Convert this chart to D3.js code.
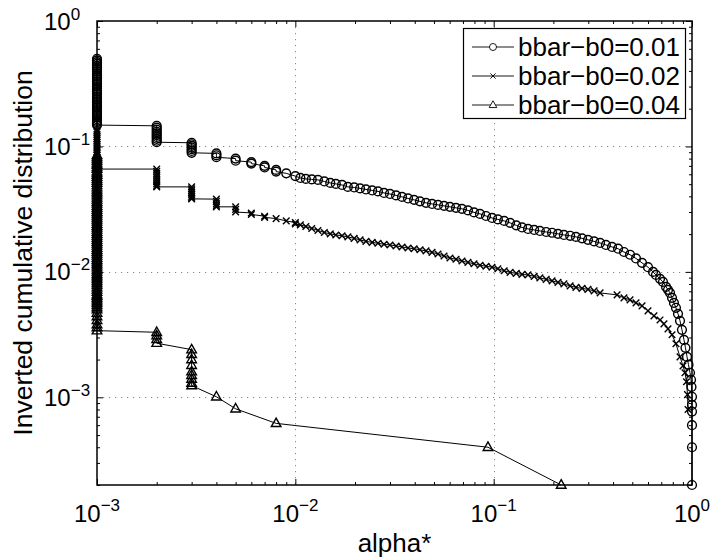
<!DOCTYPE html>
<html>
<head>
<meta charset="utf-8">
<title>Inverted cumulative distribution</title>
<script src="https://d3js.org/d3.v7.min.js"></script>
<style>
  body { margin: 0; background: #fff; }
  text { font-family: "Liberation Sans", Arial, Helvetica, sans-serif; fill: #000; }
</style>
</head>
<body>
<script>
var width = 712, height = 559;
var margin = {left: 97, right: 20, top: 21, bottom: 74};

var seriesNames = ["bbar\u2212b0=0.01", "bbar\u2212b0=0.02", "bbar\u2212b0=0.04"];
var xLabel = "alpha*";
var yLabel = "Inverted cumulative distribution";
var xTicks = [1e-3, 1e-2, 1e-1, 1];
var xTickExp = ["\u22123", "\u22122", "\u22121", "0"];
var yTicks = [1e-3, 1e-2, 1e-1, 1];
var yTickExp = ["\u22123", "\u22122", "\u22121", "0"];

// bbar-b0=0.01 : points stacked at the first alpha* values, then the tail
var s1Steps = [
  [0.001, [0.50,0.485,0.47,0.455,0.44,0.425,0.41,0.395,0.38,0.37,0.36,0.35,0.34,0.33,0.32,0.31,0.30,0.29,0.282,0.274,0.266,0.258,0.25,0.243,0.236,0.229,0.222,0.215,0.209,0.203,0.197,0.191,0.185,0.18,0.175,0.17,0.165,0.16,0.156,0.152,0.148]],
  [0.002, [0.146,0.141,0.136,0.131,0.127,0.123,0.119,0.115,0.111,0.108]],
  [0.003, [0.107,0.104,0.101,0.098,0.095,0.092,0.089]],
  [0.004, [0.088,0.085,0.082]],
  [0.005, [0.080,0.077]],
  [0.006, [0.075,0.073]],
  [0.007, [0.070,0.068]],
  [0.008, [0.065,0.063]],
  [0.009, [0.061]],
  [0.010, [0.058]]
];
var s1Tail = [
  [0.0106,0.0561],[0.0113,0.0551],[0.0121,0.0546],[0.0130,0.0541],[0.0140,0.0526],[0.0150,0.0512],
  [0.0160,0.0503],[0.0172,0.0493],[0.0184,0.0476],[0.0198,0.0471],[0.0212,0.0463],[0.0227,0.0454],
  [0.0244,0.0446],[0.0261,0.0438],[0.0280,0.0426],[0.0300,0.0418],[0.0322,0.0407],[0.0345,0.0396],
  [0.0370,0.0385],[0.0397,0.0375],[0.0425,0.0365],[0.0456,0.0355],[0.0489,0.0348],[0.0524,0.0342],
  [0.0562,0.0336],[0.0602,0.0330],[0.0646,0.0324],[0.0692,0.0318],[0.0742,0.0309],[0.0796,0.0298],
  [0.0853,0.0290],[0.0915,0.0279],[0.0981,0.0269],[0.105,0.0262],[0.113,0.0255],[0.121,0.0246],
  [0.130,0.0235],[0.139,0.0226],[0.149,0.0220],[0.160,0.0216],[0.171,0.0212],[0.184,0.0208],
  [0.197,0.0205],[0.211,0.0201],[0.226,0.0197],[0.243,0.0194],[0.260,0.0190],[0.279,0.0185],
  [0.299,0.0180],[0.321,0.0175],[0.344,0.0170],[0.368,0.0164],[0.395,0.0158],[0.424,0.0153],
  [0.454,0.0144],[0.487,0.0137],[0.522,0.0128],[0.560,0.0118],[0.600,0.0109],[0.636,0.0100],
  [0.658,0.00946],[0.690,0.00880],[0.714,0.00832],[0.740,0.00759],[0.757,0.00719],[0.775,0.00680],
  [0.793,0.00621],[0.811,0.00566],[0.830,0.00517],[0.850,0.00463],[0.870,0.00407],[0.890,0.00345],
  [0.911,0.00287],[0.927,0.00248],[0.944,0.00210],[0.960,0.00182],[0.977,0.00157],[0.989,0.00138],
  [0.994,0.00121],[1.0,0.00101],[1.0,0.00087],[1.0,0.00077],[1.0,0.0006],[1.0,0.0004],[1.0,0.0002]
];

// bbar-b0=0.02
var s2Steps = [
  [0.001, [0.135,0.13,0.125,0.12,0.116,0.112,0.108,0.104,0.100,0.097,0.094,0.091,0.088,0.085,0.082,0.079,0.076,0.073,0.071,0.068,0.066]],
  [0.002, [0.066,0.0635,0.061,0.0587,0.0565,0.0543,0.0522,0.0502,0.0485,0.0476]],
  [0.003, [0.0476,0.046,0.0445,0.043,0.0415,0.040,0.0388,0.0382]],
  [0.004, [0.038,0.0365,0.035,0.0338,0.033]],
  [0.005, [0.033,0.0315,0.030]],
  [0.006, [0.0295,0.0287]],
  [0.007, [0.0278,0.0272]],
  [0.008, [0.0266]],
  [0.009, [0.0255]],
  [0.010, [0.0247,0.0241]]
];
var s2Tail = [
  [0.0106,0.0237],[0.0113,0.0230],[0.0121,0.0222],[0.0130,0.0214],[0.0140,0.0206],[0.0150,0.0201],
  [0.0160,0.0197],[0.0172,0.0194],[0.0184,0.0190],[0.0198,0.0185],[0.0212,0.0180],[0.0227,0.0175],
  [0.0244,0.0172],[0.0261,0.0169],[0.0280,0.0166],[0.0300,0.0164],[0.0322,0.0161],[0.0345,0.0158],
  [0.0370,0.0155],[0.0397,0.0153],[0.0425,0.0150],[0.0456,0.0147],[0.0489,0.0143],[0.0524,0.0139],
  [0.0562,0.0134],[0.0602,0.0129],[0.0646,0.0126],[0.0692,0.0122],[0.0742,0.0119],[0.0796,0.0116],
  [0.0853,0.0113],[0.0915,0.0111],[0.0981,0.0109],[0.105,0.0106],[0.113,0.0102],[0.121,0.00991],
  [0.130,0.00973],[0.139,0.00955],[0.149,0.00946],[0.160,0.00921],[0.171,0.00896],[0.184,0.00872],
  [0.197,0.00848],[0.211,0.00825],[0.226,0.00802],[0.243,0.00774],[0.260,0.00752],[0.279,0.00739],
  [0.299,0.00725],[0.321,0.00706],[0.344,0.00680],[0.419,0.00656],[0.454,0.00621],[0.487,0.00598],
  [0.522,0.00566],[0.560,0.00536],[0.600,0.00489],[0.643,0.00446],[0.690,0.00414],[0.722,0.00385],
  [0.757,0.00351],[0.793,0.00315],[0.830,0.00267],[0.870,0.00210],[0.901,0.00178],[0.922,0.00157],
  [0.938,0.00133],[0.949,0.00105],[0.955,0.0008]
];

// bbar-b0=0.04
var s3Steps = [
  [0.001, [0.085,0.082,0.079,0.076,0.073,0.071,0.068,0.066,0.063,0.061,0.059,0.057,0.055,0.053,0.051,0.049,0.047,0.045,0.0435,0.042,
           0.0405,0.039,0.0375,0.036,0.0348,0.0335,0.0323,0.0311,0.030,0.029,0.028,0.027,0.026,0.025,0.024,0.0232,0.0224,0.0216,0.0208,0.020,
           0.0193,0.0186,0.0179,0.0173,0.0167,0.0161,0.0155,0.0149,0.0144,0.0139,0.0134,0.0129,0.0124,0.012,0.0116,0.0112,0.0108,0.0104,0.010,
           0.0096,0.0093,0.009,0.0087,0.0084,0.0081,0.0078,0.0075,0.0072,0.0069,0.0066,0.0064,0.0062,0.006,0.0058,0.0056,0.0054,0.0052,0.005,
           0.0047,0.0044,0.0041,0.0038,0.0036,0.0034]],
  [0.002, [0.0033,0.0031,0.0029,0.0027]],
  [0.003, [0.0024,0.0022,0.0020,0.0018,0.0016,0.0015,0.0014,0.0013,0.00124]],
  [0.004, [0.00101]],
  [0.005, [0.00081]],
  [0.008, [0.00062]]
];
var s3Tail = [[0.0936,0.0004],[0.219,0.0002]];

function build(steps, tail) {
  var pts = [];
  steps.forEach(function(s) {
    s[1].forEach(function(v) { pts.push([s[0], v]); });
  });
  return pts.concat(tail);
}
var series = [
  {name: seriesNames[0], marker: "circle", points: build(s1Steps, s1Tail)},
  {name: seriesNames[1], marker: "cross", points: build(s2Steps, s2Tail)},
  {name: seriesNames[2], marker: "triangle", points: build(s3Steps, s3Tail)}
];

var x = d3.scaleLog().domain([1e-3, 1]).range([margin.left, width - margin.right]);
var y = d3.scaleLog().domain([2e-4, 1]).range([height - margin.bottom, margin.top]);

var svg = d3.select("body").append("svg")
  .attr("width", width)
  .attr("height", height)
  .style("display", "block");

svg.append("rect").attr("width", width).attr("height", height).attr("fill", "#fff");

var x0 = x.range()[0], x1 = x.range()[1];
var y0 = y.range()[0], y1 = y.range()[1];

// dotted grid at the decades
var grid = svg.append("g")
  .attr("stroke", "#888")
  .attr("stroke-width", 1)
  .attr("stroke-dasharray", "1.2,4.8");
grid.selectAll("line.gx").data(xTicks.slice(1, -1)).enter().append("line")
  .attr("x1", function(d) { return Math.round(x(d)) + 0.5; })
  .attr("x2", function(d) { return Math.round(x(d)) + 0.5; })
  .attr("y1", y1).attr("y2", y0);
grid.selectAll("line.gy").data(yTicks.slice(0, -1)).enter().append("line")
  .attr("y1", function(d) { return Math.round(y(d)) + 0.5; })
  .attr("y2", function(d) { return Math.round(y(d)) + 0.5; })
  .attr("x1", x0).attr("x2", x1);

function isMajor(v) {
  var l = Math.log10(v);
  return Math.abs(l - Math.round(l)) < 1e-9;
}
var xMinor = x.ticks().filter(function(v) { return !isMajor(v); });
var yMinor = y.ticks().filter(function(v) { return !isMajor(v); });

// inward ticks on all four sides
function addAxis(axisFn, scale, vals, size, tx) {
  var g = svg.append("g")
    .attr("transform", tx)
    .call(axisFn(scale).tickValues(vals).tickSizeInner(-size).tickSizeOuter(0).tickFormat(""));
  g.select(".domain").remove();
  g.selectAll(".tick line").attr("stroke", "#000").attr("stroke-width", 1);
}
addAxis(d3.axisBottom, x, xTicks, 6, "translate(0," + y0 + ")");
addAxis(d3.axisBottom, x, xMinor, 3, "translate(0," + y0 + ")");
addAxis(d3.axisTop, x, xTicks, 6, "translate(0," + y1 + ")");
addAxis(d3.axisTop, x, xMinor, 3, "translate(0," + y1 + ")");
addAxis(d3.axisLeft, y, yTicks, 6, "translate(" + x0 + ",0)");
addAxis(d3.axisLeft, y, yMinor, 3, "translate(" + x0 + ",0)");
addAxis(d3.axisRight, y, yTicks, 6, "translate(" + x1 + ",0)");
addAxis(d3.axisRight, y, yMinor, 3, "translate(" + x1 + ",0)");

svg.append("rect")
  .attr("x", x0).attr("y", y1)
  .attr("width", x1 - x0).attr("height", y0 - y1)
  .attr("fill", "none").attr("stroke", "#000").attr("stroke-width", 1.5);

// tick labels 10^n
svg.selectAll("text.xt").data(xTicks).enter().append("text")
  .attr("class", "xt")
  .attr("x", function(d) { return x(d); })
  .attr("y", y0 + 37)
  .attr("text-anchor", "middle")
  .style("font-size", "24px")
  .each(function(d, i) {
    var t = d3.select(this);
    t.append("tspan").text("10");
    t.append("tspan").attr("dy", -11).style("font-size", "17px").text(xTickExp[i]);
  });

svg.selectAll("text.yt").data(yTicks).enter().append("text")
  .attr("class", "yt")
  .attr("x", 44)
  .attr("y", function(d) { return y(d) + 8.5; })
  .style("font-size", "24px")
  .each(function(d, i) {
    var t = d3.select(this);
    t.append("tspan").text("10");
    t.append("tspan").attr("dy", -10).style("font-size", "17px").text(yTickExp[i]);
  });

svg.append("text")
  .attr("x", (x0 + x1) / 2)
  .attr("y", 552)
  .attr("text-anchor", "middle")
  .style("font-size", "26px")
  .text(xLabel);

svg.append("text")
  .attr("transform", "translate(32," + ((y0 + y1) / 2) + ") rotate(-90)")
  .attr("text-anchor", "middle")
  .style("font-size", "26.5px")
  .text(yLabel);

// markers
function drawMarker(g, type) {
  if (type === "circle") {
    g.append("circle").attr("r", 4.4);
  } else if (type === "cross") {
    g.append("path").attr("d", "M-3.3,-3.3L3.3,3.3M-3.3,3.3L3.3,-3.3");
  } else {
    g.append("path").attr("d", "M0,-5.3L4.8,3.2L-4.8,3.2Z");
  }
}

var line = d3.line()
  .x(function(d) { return x(d[0]); })
  .y(function(d) { return y(d[1]); });

series.forEach(function(s) {
  var g = svg.append("g");
  g.append("path")
    .datum(s.points)
    .attr("d", line)
    .attr("fill", "none")
    .attr("stroke", "#000")
    .attr("stroke-width", 1);
  g.selectAll("g.m").data(s.points).enter().append("g")
    .attr("transform", function(d) { return "translate(" + x(d[0]) + "," + y(d[1]) + ")"; })
    .attr("fill", "none")
    .attr("stroke", "#000")
    .attr("stroke-width", 1.4)
    .each(function() { drawMarker(d3.select(this), s.marker); });
});

// legend
var legend = svg.append("g");
legend.append("rect")
  .attr("x", 463.5).attr("y", 28.5)
  .attr("width", 222).attr("height", 90)
  .attr("fill", "#fff").attr("stroke", "#000").attr("stroke-width", 1.2);
var rowY = [47, 76, 105];
series.forEach(function(s, i) {
  var row = legend.append("g").attr("transform", "translate(0," + rowY[i] + ")");
  row.append("line").attr("x1", 472).attr("x2", 514).attr("y1", 0).attr("y2", 0)
    .attr("stroke", "#000").attr("stroke-width", 0.9);
  var m = row.append("g").attr("transform", "translate(493,0) scale(0.8)")
    .attr("fill", "#fff").attr("stroke", "#000").attr("stroke-width", 1.1);
  drawMarker(m, s.marker);
  row.append("text").attr("x", 518).attr("y", 8.5)
    .style("font-size", "26px")
    .text(s.name);
});
</script>
</body>
</html>
